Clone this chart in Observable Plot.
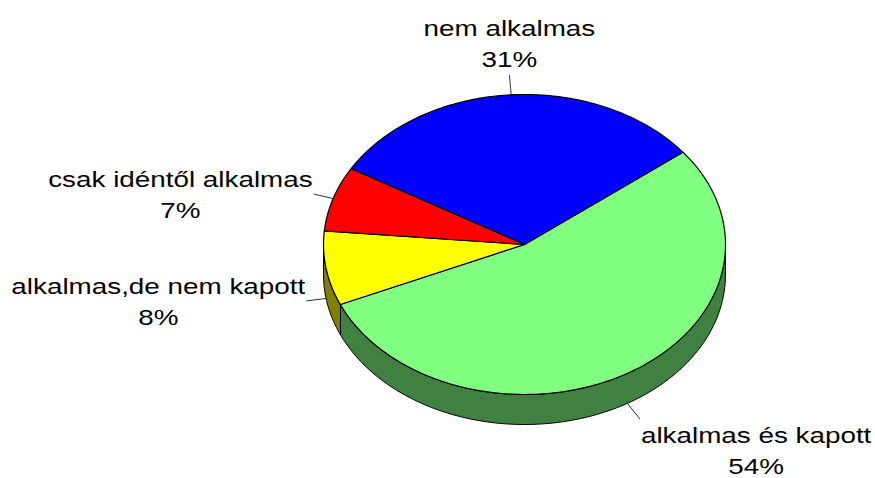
<!DOCTYPE html>
<html><head><meta charset="utf-8">
<script src="https://cdn.jsdelivr.net/npm/d3@7"></script>
<script src="https://cdn.jsdelivr.net/npm/@observablehq/plot@0.6"></script>
<style>body{margin:0;background:#fff;}</style>
</head><body><div id="chart"></div>
<script>
// ---- data ----
const categories = ["alkalmas és kapott", "alkalmas,de nem kapott", "csak idéntől alkalmas", "nem alkalmas"];
const values = [54, 8, 7, 31];
const percentLabels = ["54%", "8%", "7%", "31%"];
const topColors = ["#80FF80", "#FFFF00", "#FF0000", "#0000FF"];
const sideColors = ["#408040", "#808000", "#800000", "#000080"];
const labelPlacement = ["below-right", "left", "left", "above"];

// ---- layout / style ----
const W = 875, H = 478;
const CX = 524, CY = 244, RX = 201, RY = 150, DEPTH = 30;
const startAngle = 52;
const depth = DEPTH / RY;
const fontSize = 22, lineGap = 31, stretch = 1.265, leaderLen = 20;
const fontFamily = "'Liberation Sans', Arial, sans-serif";

const rad = d => d * Math.PI / 180;
const total = d3.sum(values);
let acc = startAngle;
const slices = values.map((v, i) => {
  const a0 = acc, a1 = acc + v / total * 360; acc = a1;
  return {i, a0, a1, mid: (a0 + a1) / 2};
});
function arcPts(a0, a1) {
  const n = Math.max(2, Math.ceil(Math.abs(a1 - a0)));
  return d3.range(n + 1).map(k => a0 + (a1 - a0) * k / n);
}

// top faces
const tops = [];
slices.forEach(s => {
  tops.push({id: s.i, x: 0, y: 0, fill: topColors[s.i]});
  arcPts(s.a0, s.a1).forEach(a => tops.push({id: s.i, x: Math.sin(rad(a)), y: Math.cos(rad(a)), fill: topColors[s.i]}));
});

// visible side walls (front half)
const sides = [];
slices.forEach(s => {
  [[90, 270], [450, 630]].forEach(([lo, hi]) => {
    const a0 = Math.max(s.a0, lo), a1 = Math.min(s.a1, hi);
    if (a1 > a0) {
      const key = s.i + "-" + lo;
      const pts = arcPts(a0, a1);
      pts.forEach(a => sides.push({id: key, x: Math.sin(rad(a)), y: Math.cos(rad(a)), fill: sideColors[s.i]}));
      pts.slice().reverse().forEach(a => sides.push({id: key, x: Math.sin(rad(a)), y: Math.cos(rad(a)) - depth, fill: sideColors[s.i]}));
    }
  });
});

// text measuring
const ctx = document.createElement("canvas").getContext("2d");
ctx.font = `${fontSize}px ${fontFamily}`;
const measure = t => ctx.measureText(t).width * stretch;

// leaders and labels
const leaders = [], labels = [];
slices.forEach(s => {
  const sx = Math.sin(rad(s.mid)), c = Math.cos(rad(s.mid));
  const sy = c >= 0 ? c : c - depth;
  const px = sx * RX, py = -c * RY;
  const L = Math.hypot(px, py);
  const ex = sx + (px / L * leaderLen) / RX;
  const ey = sy - (py / L * leaderLen) / RY;
  leaders.push({x1: sx, y1: sy, x2: ex, y2: ey});
  const w = Math.max(measure(categories[s.i]), measure(percentLabels[s.i]));
  let dx = 0, dy = 0;
  const p = labelPlacement[s.i];
  if (p === "above") { dx = 0; dy = -8; }
  else if (p === "left") { dx = -w / 2 - 1; dy = 24.5; }
  else if (p === "right") { dx = w / 2 + 1; dy = 24.5; }
  else if (p === "below-right") { dx = w / 2 + 1; dy = 55; }
  labels.push({x: ex + dx / RX, y: ey - dy / RY, text: categories[s.i] + "\n" + percentLabels[s.i]});
});

const chart = Plot.plot({
  width: W, height: H, margin: 0,
  style: {fontFamily, background: "#fff"},
  x: {domain: [-1, 1], range: [CX - RX, CX + RX], axis: null},
  y: {domain: [-1, 1], range: [CY + RY, CY - RY], axis: null},
  color: {type: "identity"},
  marks: [
    Plot.line(sides, {x: "x", y: "y", z: "id", fill: "fill", stroke: "#000", strokeWidth: 1, curve: "linear-closed"}),
    Plot.line(tops, {x: "x", y: "y", z: "id", fill: "fill", stroke: "#000", strokeWidth: 1.2, curve: "linear-closed"}),
    Plot.link(leaders, {x1: "x1", y1: "y1", x2: "x2", y2: "y2", stroke: "#000", strokeWidth: 0.8}),
    Plot.text(labels, {x: "x", y: "y", text: "text", textAnchor: "middle", lineAnchor: "bottom",
      lineHeight: lineGap / fontSize, fontSize, fontFamily, fill: "#000", className: "pielabels"})
  ]
});
document.getElementById("chart").appendChild(chart);
d3.select(chart).selectAll("g.pielabels text, .pielabels text").each(function () {
  const t = this.getAttribute("transform");
  if (t) this.setAttribute("transform", t + ` scale(${stretch},1)`);
});
</script>
</body></html>
